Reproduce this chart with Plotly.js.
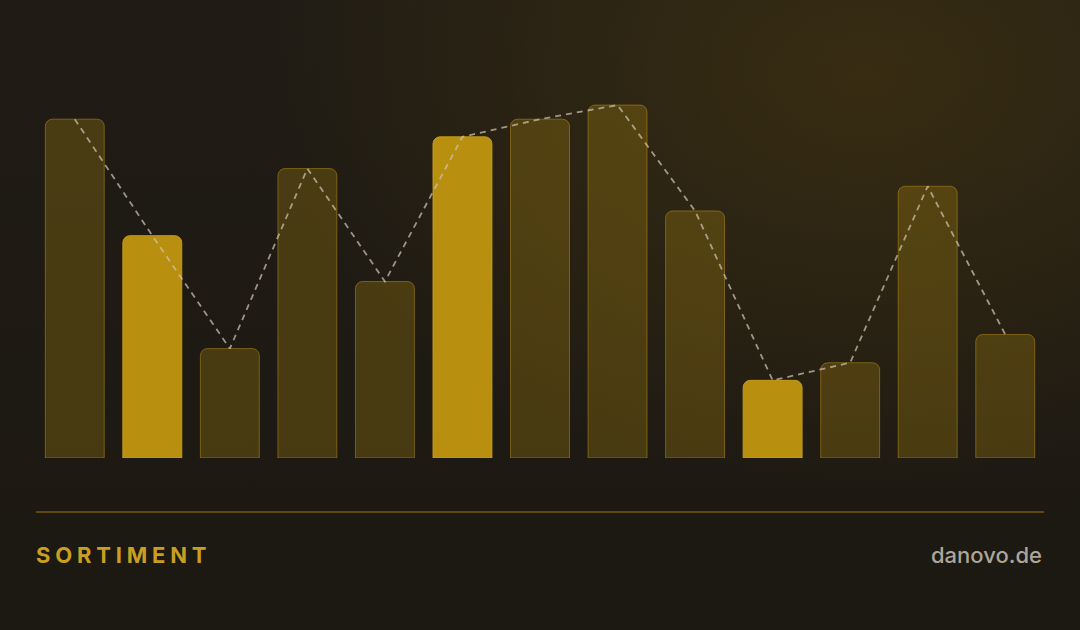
<!DOCTYPE html>
<html>
<head>
<meta charset="utf-8">
<script src="https://cdn.plot.ly/plotly-3.0.1.min.js"></script>
<style>
  html, body { margin: 0; padding: 0; }
  body {
    width: 1080px; height: 630px; overflow: hidden;
    background:
      radial-gradient(ellipse 75% 90% at 80% 12%, rgba(62,49,18,0.8) 0%, rgba(62,49,18,0) 75%),
      linear-gradient(180deg, #201c15 0%, #1c1812 100%);
  }
  #chart { width: 1080px; height: 630px; }
</style>
</head>
<body>
<div id="chart"></div>
<script>
const categories = ["1","2","3","4","5","6","7","8","9","10","11","12","13"];
const values = [96, 63, 31, 82, 50, 91, 96, 100, 70, 22, 27, 77, 35];
const highlighted = [false, true, false, false, false, true, false, false, false, true, false, false, false];
const titleText = "SORTIMENT";
const brandText = "danovo.de";

const gold = "#b98f10";
const barColors = highlighted.map(h => h ? gold : "rgba(184,144,15,0.28)");
const barLines = highlighted.map(h => h ? "rgba(200,160,30,0.9)" : "rgba(190,150,25,0.5)");

const bars = {
  type: "bar",
  x: categories,
  y: values,
  marker: {
    color: barColors,
    line: { color: barLines, width: 1 },
    cornerradius: 7
  },
  hoverinfo: "skip"
};

const line = {
  type: "scatter",
  mode: "lines",
  x: categories,
  y: values,
  line: { color: "rgba(205,196,178,0.72)", width: 1.8, dash: "6px,5px" },
  cliponaxis: false,
  hoverinfo: "skip"
};

const layout = {
  width: 1080, height: 630,
  margin: { l: 36, r: 36, t: 98, b: 172 },
  paper_bgcolor: "rgba(0,0,0,0)",
  plot_bgcolor: "rgba(0,0,0,0)",
  showlegend: false,
  bargap: 0.24,
  xaxis: { visible: false, type: "category", fixedrange: true },
  yaxis: { visible: false, range: [0, 102], fixedrange: true },
  shapes: [{
    type: "line", xref: "paper", yref: "paper",
    x0: 0, x1: 1, y0: -0.15, y1: -0.15,
    line: { color: "rgba(184,144,15,0.55)", width: 1.5 }
  }],
  annotations: [
    {
      text: "<b>" + titleText + "</b>", xref: "paper", yref: "paper",
      x: 0, y: -0.27, xanchor: "left", yanchor: "middle", showarrow: false,
      font: { family: "Inter, 'Liberation Sans', sans-serif", size: 22, color: "#c99f22" }
    },
    {
      text: brandText, xref: "paper", yref: "paper",
      x: 1, y: -0.27, xanchor: "right", yanchor: "middle", showarrow: false,
      font: { family: "Inter, 'Liberation Sans', sans-serif", size: 22, weight: 500, color: "#aca699" }
    }
  ]
};

Plotly.newPlot("chart", [bars, line], layout, { staticPlot: true, displayModeBar: false }).then(() => {
  const t = document.querySelectorAll(".annotation-text")[0];
  if (t) {
    const before = t.getBBox();
    t.style.letterSpacing = "4.8px";
    const after = t.getBBox();
    t.setAttribute("transform", "translate(" + (before.x - after.x - 2) + ",0)");
  }
});
</script>
</body>
</html>
